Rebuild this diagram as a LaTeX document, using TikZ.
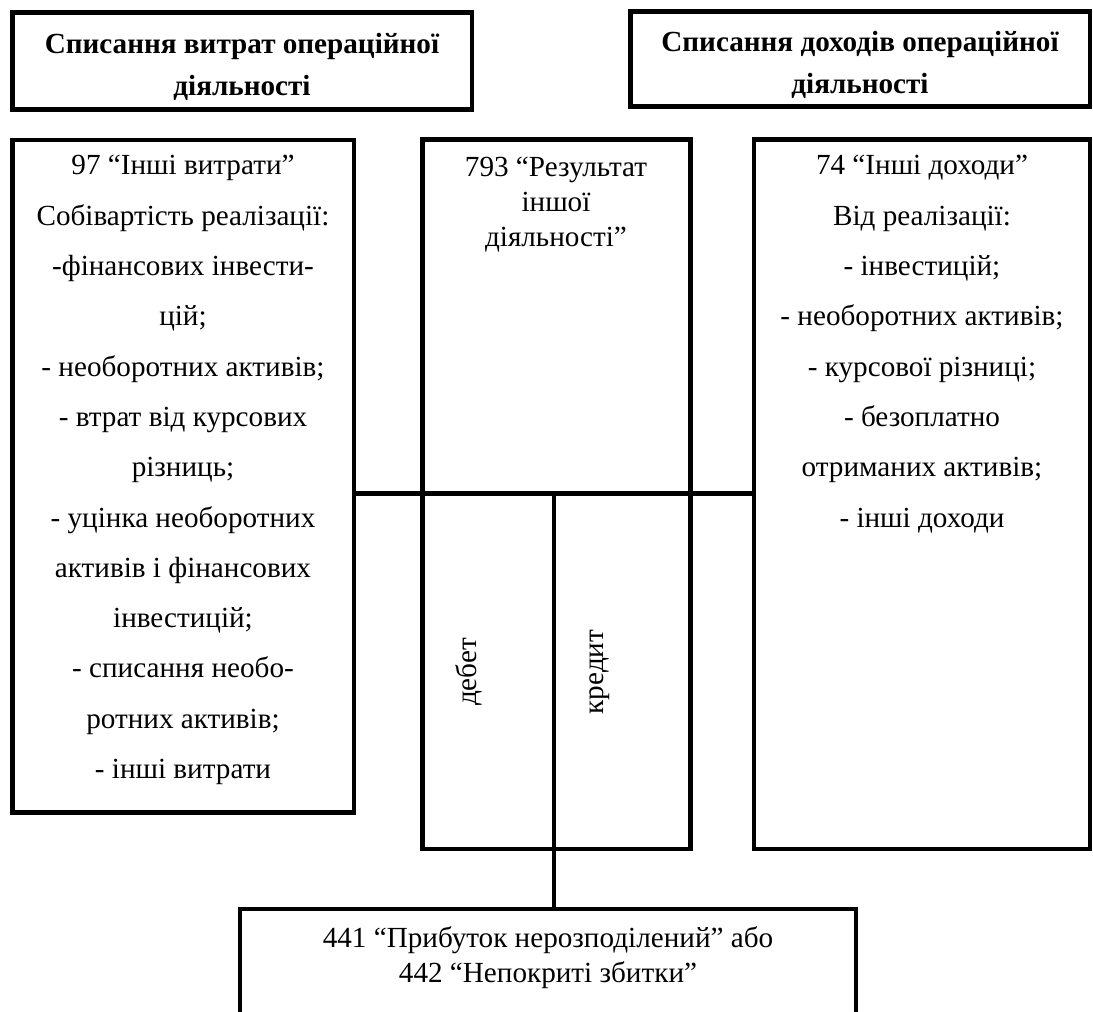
\documentclass[tikz,border=0pt]{standalone}
\usepackage{fontspec}
\setmainfont{Liberation Serif}
\usetikzlibrary{fit}

\tikzset{
  box/.style={draw,line width=2.2pt,inner sep=0pt},
  link/.style={line width=2.2pt},
  hdrtxt/.style={align=center,inner sep=0pt,font=\bfseries\fontsize{14pt}{20pt}\selectfont},
  bodytxt/.style={align=center,inner sep=0pt,anchor=north,font=\fontsize{14pt}{24.15pt}\selectfont},
  tighttxt/.style={align=center,inner sep=0pt,anchor=north,font=\fontsize{14pt}{16.8pt}\selectfont},
  sidetxt/.style={inner sep=0pt,rotate=90,font=\fontsize{14pt}{16.8pt}\selectfont},
}

\begin{document}
\begin{tikzpicture}[x=0.48pt,y=-0.48pt]
  \useasboundingbox (0,0) rectangle (1093,1012);
  \clip (0,0) rectangle (1093,1012);
  \node[box,fit={(12.5,12.5) (472,109.5)}] (hdrcost) {};
  \node[box,fit={(630.5,11.5) (1090,106.5)}] (hdrincome) {};
  \node[hdrtxt] (hdrcosttxt) at (242,67) {Списання витрат операційної\\діяльності};
  \node[hdrtxt] (hdrincometxt) at (860,65) {Списання доходів операційної\\діяльності};
  \node[box,fit={(12.5,140) (354,812.5)}] (cost) {};
  \node[box,fit={(422.5,139.5) (690.5,849)}] (result) {};
  \node[box,fit={(754,139.5) (1090,849)}] (income) {};
  \node[box,fit={(240,909) (856,1060)}] (profit) {};
  \node[bodytxt] (costtxt) at (183,155) {97 “Інші витрати”\\Собівартість реалізації:\\-фінансових інвести-\\цій;\\- необоротних активів;\\- втрат від курсових\\різниць;\\- уцінка необоротних\\активів і фінансових\\інвестицій;\\- списання необо-\\ротних активів;\\- інші витрати};
  \node[bodytxt] (incometxt) at (922,155) {74 “Інші доходи”\\Від реалізації:\\- інвестицій;\\- необоротних активів;\\- курсової різниці;\\- безоплатно\\отриманих активів;\\- інші доходи};
  \node[tighttxt] (resulttxt) at (556,157) {793 “Результат\\іншої\\діяльності”};
  \node[sidetxt] (debit) at (469,672) {дебет};
  \node[sidetxt] (credit) at (600,672) {кредит};
  \node[tighttxt] (profittxt) at (548,926) {441 “Прибуток нерозподілений” або\\442 “Непокриті збитки”};
  \coordinate (split) at (554,493.5);
  \draw[link] (cost.east |- split) -- (income.west |- split);
  \draw[link] (split) -- (split |- profit.north);
\end{tikzpicture}
\end{document}
